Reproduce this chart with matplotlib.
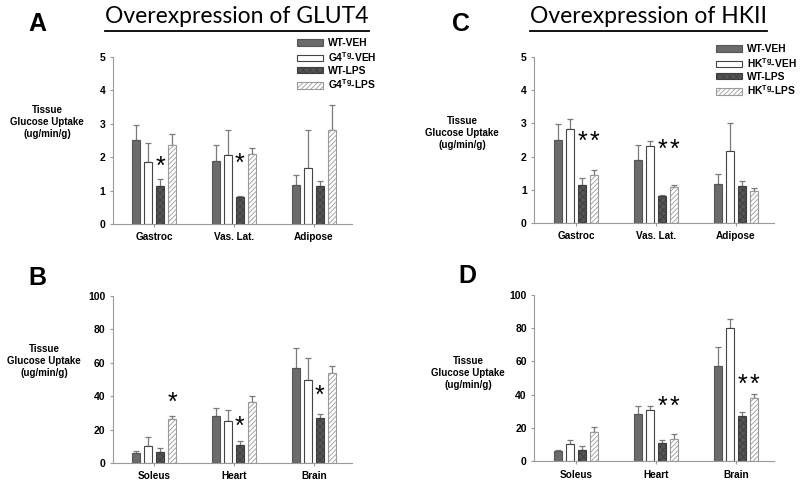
import numpy as np
import matplotlib.pyplot as plt
from matplotlib.patches import Patch
from matplotlib.lines import Line2D

plt.rcParams['font.family'] = ['Liberation Sans', 'DejaVu Sans']
plt.rcParams['font.weight'] = 'bold'
plt.rcParams['mathtext.fontset'] = 'custom'
plt.rcParams['mathtext.rm'] = 'Liberation Sans:bold'
plt.rcParams['mathtext.bf'] = 'Liberation Sans:bold'
plt.rcParams['hatch.linewidth'] = 0.6

upper_tissues = ['Gastroc', 'Vas. Lat.', 'Adipose']
lower_tissues = ['Soleus', 'Heart', 'Brain']
glut4_labels = ['WT-VEH', r'G4$^{\mathrm{Tg}}$-VEH', 'WT-LPS', r'G4$^{\mathrm{Tg}}$-LPS']
hk_labels = ['WT-VEH', r'HK$^{\mathrm{Tg}}$-VEH', 'WT-LPS', r'HK$^{\mathrm{Tg}}$-LPS']

# A - GLUT4, gastroc / vas lat / adipose
a_means = [[2.50, 1.90, 1.17],   # WT-VEH
           [1.85, 2.07, 1.68],   # G4Tg-VEH
           [1.15, 0.82, 1.13],   # WT-LPS
           [2.35, 2.10, 2.80]]   # G4Tg-LPS
a_errs = [[0.47, 0.47, 0.31],
          [0.57, 0.75, 1.12],
          [0.20, 0.03, 0.15],
          [0.33, 0.18, 0.77]]
a_stars = [(0, 2, 1.70), (1, 2, 1.80)]   # (tissue, group, height)

# B - GLUT4, soleus / heart / brain
b_means = [[6.0, 28.5, 57.0],
           [10.5, 25.0, 50.0],
           [6.5, 11.0, 27.0],
           [26.5, 36.5, 54.0]]
b_errs = [[1.0, 4.5, 12.0],
          [5.0, 6.5, 13.0],
          [2.5, 2.0, 2.5],
          [2.0, 3.5, 4.0]]
b_stars = [(0, 3, 36), (1, 2, 22), (2, 2, 40)]

# C - HKII, gastroc / vas lat / adipose
c_means = [[2.50, 1.90, 1.17],
           [2.83, 2.33, 2.17],
           [1.15, 0.80, 1.12],
           [1.45, 1.10, 0.97]]
c_errs = [[0.47, 0.45, 0.31],
          [0.29, 0.15, 0.83],
          [0.20, 0.05, 0.16],
          [0.15, 0.05, 0.08]]
c_stars = [(0, 2, 2.45), (0, 3, 2.45), (1, 2, 2.20), (1, 3, 2.20)]

# D - HKII, soleus / heart / brain
d_means = [[6.0, 28.5, 57.0],
           [10.5, 31.0, 80.0],
           [7.0, 11.0, 27.5],
           [17.5, 13.5, 38.0]]
d_errs = [[1.0, 4.5, 12.0],
          [2.5, 2.5, 5.5],
          [2.0, 2.0, 2.0],
          [3.0, 3.0, 2.5]]
d_stars = [(1, 2, 33), (1, 3, 33), (2, 2, 46), (2, 3, 46)]

styles = [dict(facecolor='#6b6b6b', edgecolor='#555555'),
          dict(facecolor='white', edgecolor='#444444'),
          dict(facecolor='#555555', edgecolor='#3e3e3e', hatch='xxxxx'),
          dict(facecolor='white', edgecolor='#9a9a9a', hatch='///////')]
offsets = [-0.225, -0.075, 0.075, 0.225]
axcol = '#9a9a9a'


def draw_panel(ax, tissues, means, errs, stars, ymax, step):
    x = np.arange(len(tissues))
    for i in range(4):
        ax.bar(x + offsets[i], means[i], width=0.1, linewidth=0.8, zorder=2, **styles[i])
        ax.errorbar(x + offsets[i], means[i], yerr=[np.zeros(len(x)), errs[i]],
                    fmt='none', ecolor='#7a7a7a', elinewidth=0.9, capsize=2.5,
                    capthick=0.9, zorder=1)
    for t, g, h in stars:
        ax.text(t + offsets[g], h, '*', ha='center', va='center', fontsize=18,
                fontweight='normal')
    ax.set_xlim(-0.52, 2.48)
    ax.set_ylim(0, ymax)
    ax.set_yticks(np.arange(0, ymax + step / 2, step))
    ax.set_xticks(x)
    ax.set_xticklabels(tissues)
    for s in ['top', 'right']:
        ax.spines[s].set_visible(False)
    for s in ['left', 'bottom']:
        ax.spines[s].set_color(axcol)
        ax.spines[s].set_linewidth(0.8)
    ax.tick_params(axis='both', colors=axcol, labelcolor='black', labelsize=7.5,
                   length=2.5, width=0.8, pad=3)
    ax.tick_params(axis='x', pad=3.5, labelsize=7.2)


fig = plt.figure(figsize=(8, 4.86), dpi=100)
axA = fig.add_axes([0.141, 0.539, 0.299, 0.344])
axB = fig.add_axes([0.141, 0.047, 0.299, 0.344])
axC = fig.add_axes([0.668, 0.541, 0.30, 0.342])
axD = fig.add_axes([0.668, 0.051, 0.30, 0.342])

draw_panel(axA, upper_tissues, a_means, a_errs, a_stars, 5, 1)
draw_panel(axB, lower_tissues, b_means, b_errs, b_stars, 100, 20)
draw_panel(axC, upper_tissues, c_means, c_errs, c_stars, 5, 1)
draw_panel(axD, lower_tissues, d_means, d_errs, d_stars, 100, 20)

ylab = 'Tissue\nGlucose Uptake\n(ug/min/g)'
for px, py in [(47, 122), (44, 361), (462, 133), (468, 373)]:
    fig.text(px / 800, 1 - py / 486, ylab, ha='center', va='center',
             fontsize=7, linespacing=1.2)

for letter, px, py in [('A', 37, 24), ('B', 37, 278), ('C', 461, 24), ('D', 467, 276)]:
    fig.text(px / 800, 1 - py / 486, letter, ha='center', va='center', fontsize=18)

for lab_set, px, py in [(glut4_labels, 297, 38), (hk_labels, 716, 44)]:
    handles = [Patch(linewidth=0.8, **styles[i]) for i in range(4)]
    fig.legend(handles, lab_set, loc='upper left', bbox_to_anchor=(px / 800, 1 - py / 486),
               frameon=False, fontsize=7.4, handlelength=2.5, handleheight=0.6,
               handletextpad=0.5, labelspacing=0.18, borderpad=0, borderaxespad=0)

# underlined titles
fig.canvas.draw()
renderer = fig.canvas.get_renderer()
for title, px in [('Overexpression of GLUT4', 237), ('Overexpression of HKII', 648)]:
    t = fig.text(px / 800, 1 - 23 / 486, title, ha='center', va='baseline',
                 fontsize=16.5, fontweight='normal', family=['Lato', 'DejaVu Sans'])
    bb = t.get_window_extent(renderer).transformed(fig.transFigure.inverted())
    uy = 1 - 31 / 486
    fig.add_artist(Line2D([bb.x0, bb.x1], [uy, uy], color='black', linewidth=1.3,
                          transform=fig.transFigure))

fig.savefig('out.png', dpi=100)
